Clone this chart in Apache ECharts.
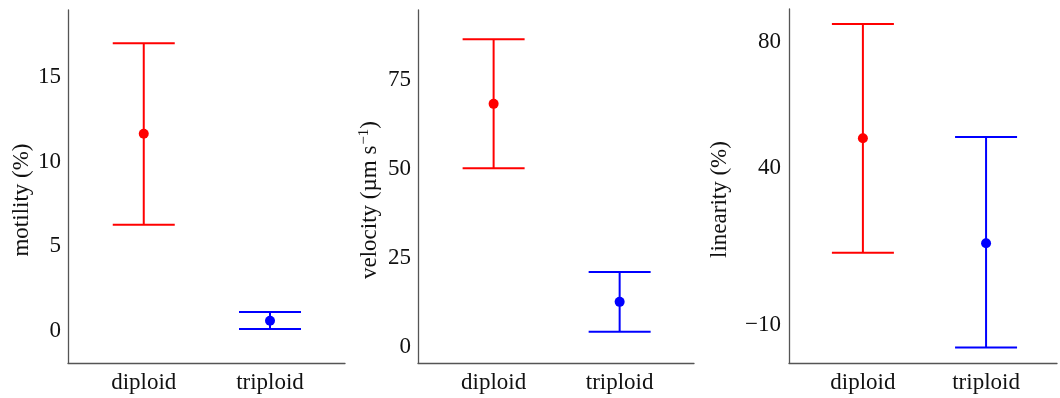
<!DOCTYPE html>
<html>
<head>
<meta charset="utf-8">
<style>
  html, body { margin: 0; padding: 0; background: #ffffff; }
  #chart { width: 1060px; height: 398px; }
</style>
<script src="https://cdn.jsdelivr.net/npm/echarts@6/dist/echarts.min.js"></script>
</head>
<body>
<div id="chart"></div>
<script>
// Groups and their colours
const categories = ['diploid', 'triploid'];
const groupColors = ['#ff0000', '#0000ff'];

// Motility (%): mean with lower / upper interval bounds
const motilityMean = [11.65, 0.61];
const motilityLow = [6.28, 0.12];
const motilityHigh = [17.0, 1.12];
const motilityTicks = [0, 5, 10, 15];

// Velocity (µm s−1)
const velocityMean = [68.3, 12.6];
const velocityLow = [50.2, 4.2];
const velocityHigh = [86.5, 21.0];
const velocityTicks = [0, 25, 50, 75];

// Linearity (%)
const linearityMean = [49.4, 16.0];
const linearityLow = [13.0, -17.2];
const linearityHigh = [85.7, 49.8];
const linearityTicks = [-10, 40, 80];

const FONT = '"Liberation Serif", "DejaVu Serif", serif';
const TEXT = '#111111';
const AXIS = '#555555';

const panels = [
  { mean: motilityMean, low: motilityLow, high: motilityHigh, ticks: motilityTicks,
    yMin: -1.89, yMax: 18.96, xMax: 2.594,
    grid: { left: 68, top: 10, width: 277, bottom: 35 },
    name: 'motility (%)', nameGap: 35, labelMargin: 7 },
  { mean: velocityMean, low: velocityLow, high: velocityHigh, ticks: velocityTicks,
    yMin: -4.6, yMax: 94.7, xMax: 2.59,
    grid: { left: 418, top: 10, width: 276, bottom: 35 },
    name: '{n|velocity (µm s}{sup|−1}{n|)}', nameGap: 36, labelMargin: 7 },
  { mean: linearityMean, low: linearityLow, high: linearityHigh, ticks: linearityTicks,
    yMin: -22.1, yMax: 90.5, xMax: 2.576,
    grid: { left: 789, top: 9, width: 271, bottom: 35 },
    name: 'linearity (%)', nameGap: 58, labelMargin: 8 }
];

function fmtTick(v) {
  return v < 0 ? '\u2212' + Math.abs(v) : String(v);
}

// Interval bar: vertical stem plus two horizontal caps
function renderErrorBar(params, api) {
  const x = api.value(0);
  const lo = api.coord([x, api.value(1)]);
  const hi = api.coord([x, api.value(2)]);
  const half = 31;
  const color = api.visual('color');
  const style = { stroke: color, lineWidth: 2 };
  return {
    type: 'group',
    children: [
      { type: 'line', shape: { x1: lo[0], y1: lo[1], x2: hi[0], y2: hi[1] }, style: style },
      { type: 'line', shape: { x1: hi[0] - half, y1: hi[1], x2: hi[0] + half, y2: hi[1] }, style: style },
      { type: 'line', shape: { x1: lo[0] - half, y1: lo[1], x2: lo[0] + half, y2: lo[1] }, style: style }
    ]
  };
}

const grids = [], xAxes = [], yAxes = [], series = [];
panels.forEach(function (p, i) {
  grids.push(p.grid);
  xAxes.push({
    type: 'value', gridIndex: i, min: 0.4, max: p.xMax, interval: 0.2,
    splitLine: { show: false },
    axisTick: { show: false },
    axisLine: { show: true, onZero: false, lineStyle: { color: AXIS, width: 1.3 } },
    axisLabel: {
      margin: 8, fontFamily: FONT, fontSize: 23, color: TEXT,
      showMinLabel: true, showMaxLabel: true,
      formatter: function (v) {
        const k = Math.round(v);
        return Math.abs(v - k) < 1e-6 && k >= 1 && k <= categories.length ? categories[k - 1] : '';
      }
    }
  });
  yAxes.push({
    type: 'value', gridIndex: i, min: p.yMin, max: p.yMax,
    splitLine: { show: false },
    axisTick: { show: false },
    axisLine: { show: true, onZero: false, lineStyle: { color: AXIS, width: 1.3 } },
    axisLabel: {
      customValues: p.ticks,
      margin: p.labelMargin, fontFamily: FONT, fontSize: 23, color: TEXT,
      formatter: fmtTick
    },
    name: p.name, nameLocation: 'middle', nameGap: p.nameGap,
    nameTextStyle: {
      fontFamily: FONT, fontSize: 23, color: TEXT, padding: [0, 27, 0, 0],
      rich: {
        n: { fontFamily: FONT, fontSize: 23, color: TEXT },
        sup: { fontFamily: FONT, fontSize: 15, color: TEXT, verticalAlign: 'top', padding: [0, 0, 10, 1] }
      }
    }
  });
  series.push({
    type: 'custom', xAxisIndex: i, yAxisIndex: i,
    renderItem: renderErrorBar,
    encode: { x: 0, y: [1, 2] },
    data: categories.map(function (c, j) {
      return { value: [j + 1, p.low[j], p.high[j]], itemStyle: { color: groupColors[j] } };
    }),
    z: 2
  });
  series.push({
    type: 'scatter', xAxisIndex: i, yAxisIndex: i,
    symbol: 'circle', symbolSize: 10,
    itemStyle: { opacity: 1 },
    data: categories.map(function (c, j) {
      return { value: [j + 1, p.mean[j]], itemStyle: { color: groupColors[j], opacity: 1 } };
    }),
    z: 3
  });
});

const chart = echarts.init(document.getElementById('chart'), null, { renderer: 'canvas' });
chart.setOption({
  animation: false,
  backgroundColor: '#ffffff',
  grid: grids,
  xAxis: xAxes,
  yAxis: yAxes,
  series: series
});
</script>
</body>
</html>
